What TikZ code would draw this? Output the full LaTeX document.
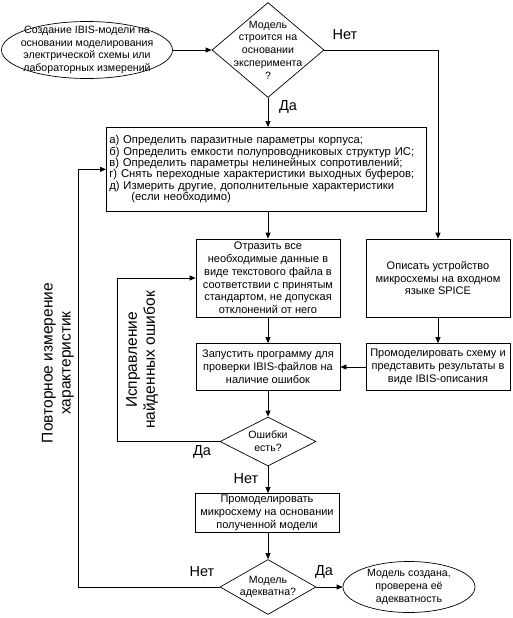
\documentclass[tikz,border=0pt]{standalone}
\usepackage{fontspec}
\setmainfont{Liberation Sans}
\usetikzlibrary{arrows.meta, positioning, shapes.geometric}

\begin{document}
\begin{tikzpicture}[
  x=1pt, y=-1pt,
  every node/.style={font=\fontsize{10.6}{12.7}\selectfont, inner sep=1pt},
  block/.style={draw, rectangle, align=center, minimum width=144pt, minimum height=47pt,
    font=\fontsize{11}{12.8}\selectfont},
  decision/.style={draw, diamond, inner sep=0pt},
  terminal/.style={draw, ellipse, inner sep=0pt},
  lbl/.style={font=\fontsize{14.5}{16}\selectfont},
  side/.style={font=\fontsize{15.5}{18}\selectfont, align=center, rotate=90},
  arr/.style={-{Triangle[length=6pt, width=5pt]}},
  every path/.style={line width=0.7pt}
]
\useasboundingbox (0,0) rectangle (512,618);

% start and first question
\node[terminal, minimum width=171pt, minimum height=57pt,
  label={[align=center]center:Создание IBIS-модели на\\основании моделирования\\электрической схемы или\\лабораторных измерений}]
  (start) at (87,50) {};
\node[decision, minimum width=112pt, minimum height=95pt,
  label={[align=center]center:Модель\\строится на\\основании\\эксперимента\\?}]
  (exper) at (268,50) {};

% measurements
\node[draw, rectangle, anchor=north west, minimum width=320pt, minimum height=84pt,
  text width=314pt, align=left, inner sep=3pt,
  font=\fontsize{11.3}{11.4}\selectfont] (tasks) at (106,127)
  {а) Определить паразитные параметры корпуса;\\
   б) Определить емкости полупроводниковых структур ИС;\\
   в) Определить параметры нелинейных сопротивлений;\\
   г) Снять переходные характеристики выходных буферов;\\
   д) Измерить другие, дополнительные характеристики\\
   \hspace*{22pt}(если необходимо)};

\node[block, minimum height=78pt] (data) at (268,278)
  {Отразить все\\необходимые данные в\\виде текстового файла в\\соответствии с принятым\\стандартом, не допуская\\отклонений от него};
\node[block, minimum height=78pt] (spice) at (438,278)
  {Описать устройство\\микросхемы на входном\\языке SPICE};
\node[block] (check) at (268,367)
  {Запустить программу для\\проверки IBIS-файлов на\\наличие ошибок};
\node[block] (sim) at (438,367)
  {Промоделировать схему и\\представить результаты в\\виде IBIS-описания};

\node[decision, minimum width=96pt, minimum height=49pt,
  label={[align=center]center:Ошибки\\есть?}] (errors) at (268,441.5) {};
\node[block, minimum height=39pt] (model) at (267,513)
  {Промоделировать\\микросхему на основании\\полученной модели};
\node[decision, minimum width=96pt, minimum height=55pt,
  label={[align=center]center:Модель\\адекватна?}] (adequate) at (268,587) {};
\node[terminal, minimum width=132pt, minimum height=51pt,
  label={[align=center]center:Модель создана,\\проверена её\\адекватность}]
  (done) at (409,587) {};

\coordinate (fixloop) at (117,441.5);
\coordinate (reloop) at (78,587);

% connectors
\draw[arr] (start) -- (exper);
\draw[arr] (exper.east) -| (spice.north);
\draw[arr] (exper.south) -- (tasks.north -| exper.south);
\draw[arr] (data.north |- tasks.south) -- (data.north);
\draw[arr] (data) -- (check);
\draw[arr] (spice) -- (sim);
\draw[arr] (sim) -- (check);
\draw[arr] (check) -- (errors);
\draw[arr] (errors.west) -- (fixloop) |- (data.west);
\draw[arr] (errors.south) -- (model.north -| errors.south);
\draw[arr] (model.south -| adequate.north) -- (adequate.north);
\draw[arr] (adequate.west) -- (reloop) |- (tasks.west);
\draw[arr] (adequate.east) -- (done.west);

% labels
\node[lbl] at (345,35) {Нет};
\node[lbl] at (288,107) {Да};
\node[lbl] at (202,452) {Да};
\node[lbl] at (246,479) {Нет};
\node[lbl] at (202,572) {Нет};
\node[lbl] at (324,572) {Да};
\node[side] at (58,363) {Повторное измерение\\характеристик};
\node[side] at (142,360) {Исправление\\найденных ошибок};
\end{tikzpicture}
\end{document}
